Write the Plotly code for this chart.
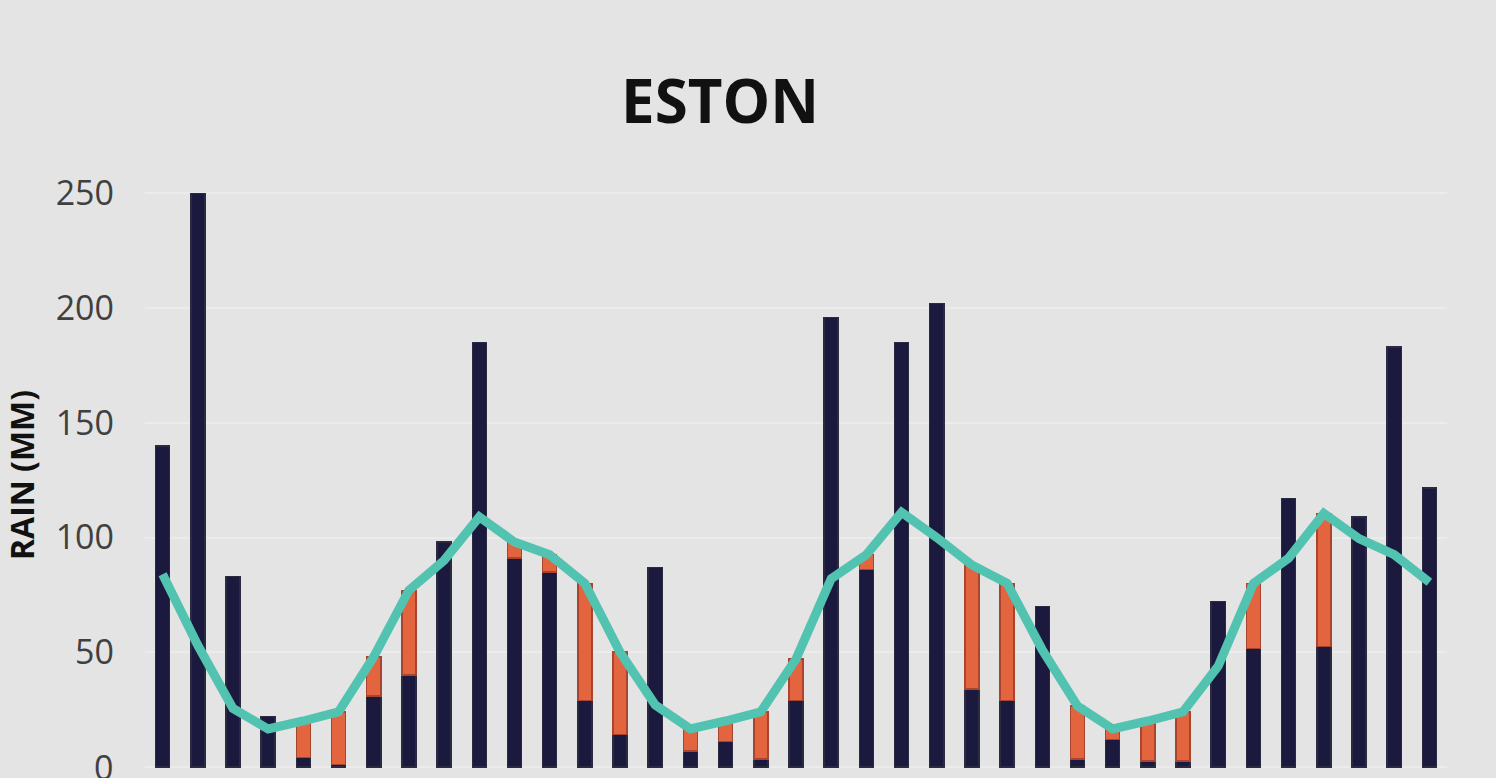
import numpy as np
import plotly.graph_objects as go

# Monthly rainfall (mm), 37 consecutive months
months = list(range(37))
actual = [140, 250, 83, 22, 4, 1, 31, 40, 98, 185, 91, 85,
          29, 14, 87, 7, 11, 3.5, 29, 196, 86, 185, 202, 34,
          29, 70, 3.5, 12, 2.5, 2.5, 72, 51.5, 117, 52.5, 109, 183,
          121.5]
average = [84, 53, 25.5, 16.5, 20, 24, 48, 77, 90, 109, 98, 92.5,
           80, 50, 27, 16.5, 20, 24, 47, 82, 92.5, 111, 100, 88,
           80, 51, 26.5, 16.5, 20, 24, 44, 80, 91, 110.5, 99.5, 92.5,
           80.5]
y_ticks = [0, 50, 100, 150, 200, 250]

act = np.array(actual, dtype=float)
avg = np.array(average, dtype=float)
diff = avg - act
shortfall = np.where(diff > 0, diff, np.nan)

BG = "#e4e4e4"
NAVY = "#1b1a3e"
ORANGE = "#e2653f"
TEAL = "#52c3b0"
TICKFONT = dict(family="Open Sans", size=34, color="#404040")

fig = go.Figure()
fig.add_trace(go.Bar(
    x=months, y=act, width=0.4, name="Rainfall",
    marker=dict(color=NAVY, line=dict(color="#2a2a40", width=1.5)),
))
fig.add_trace(go.Bar(
    x=months, y=shortfall, width=0.4, name="Shortfall",
    marker=dict(color=ORANGE, line=dict(color="#a9442e", width=1.5)),
))
fig.add_trace(go.Scatter(
    x=months, y=avg, mode="lines", name="Average",
    line=dict(color=TEAL, width=9),
))

fig.update_layout(
    width=1496, height=778,
    barmode="stack",
    showlegend=False,
    paper_bgcolor=BG, plot_bgcolor=BG,
    margin=dict(l=145, r=49, t=182, b=10),
    title=dict(text="<b>ESTON</b>", x=720/1496, xanchor="center",
               y=1 - 102/778, yanchor="middle",
               font=dict(family="Open Sans", size=60, color="#111111")),
    xaxis=dict(range=[-0.5, 36.5], showticklabels=False, showgrid=False,
               zeroline=False, showline=False, ticks=""),
    yaxis=dict(range=[-0.5, 255], tickvals=y_ticks,
               tickfont=TICKFONT,
               ticklabelstandoff=30,
               showgrid=True, gridcolor="#ebebeb", gridwidth=1.5,
               zeroline=False, showline=False,
               title=dict(text="<b>RAIN (MM)</b>", standoff=22,
                          font=dict(family="Open Sans", size=32, color="#111111"))),
)

# the bottom "0" tick label sits on the page edge; draw it explicitly
fig.add_annotation(text=str(y_ticks[0]), xref="paper", x=0, yref="y", y=y_ticks[0],
                   xanchor="right", yanchor="middle", xshift=-30,
                   showarrow=False, font=TICKFONT)

fig.write_html("out.html",
               config={"displayModeBar": False},
               post_script="document.body.style.margin='0';"
                           "document.body.style.background='#e4e4e4';")
